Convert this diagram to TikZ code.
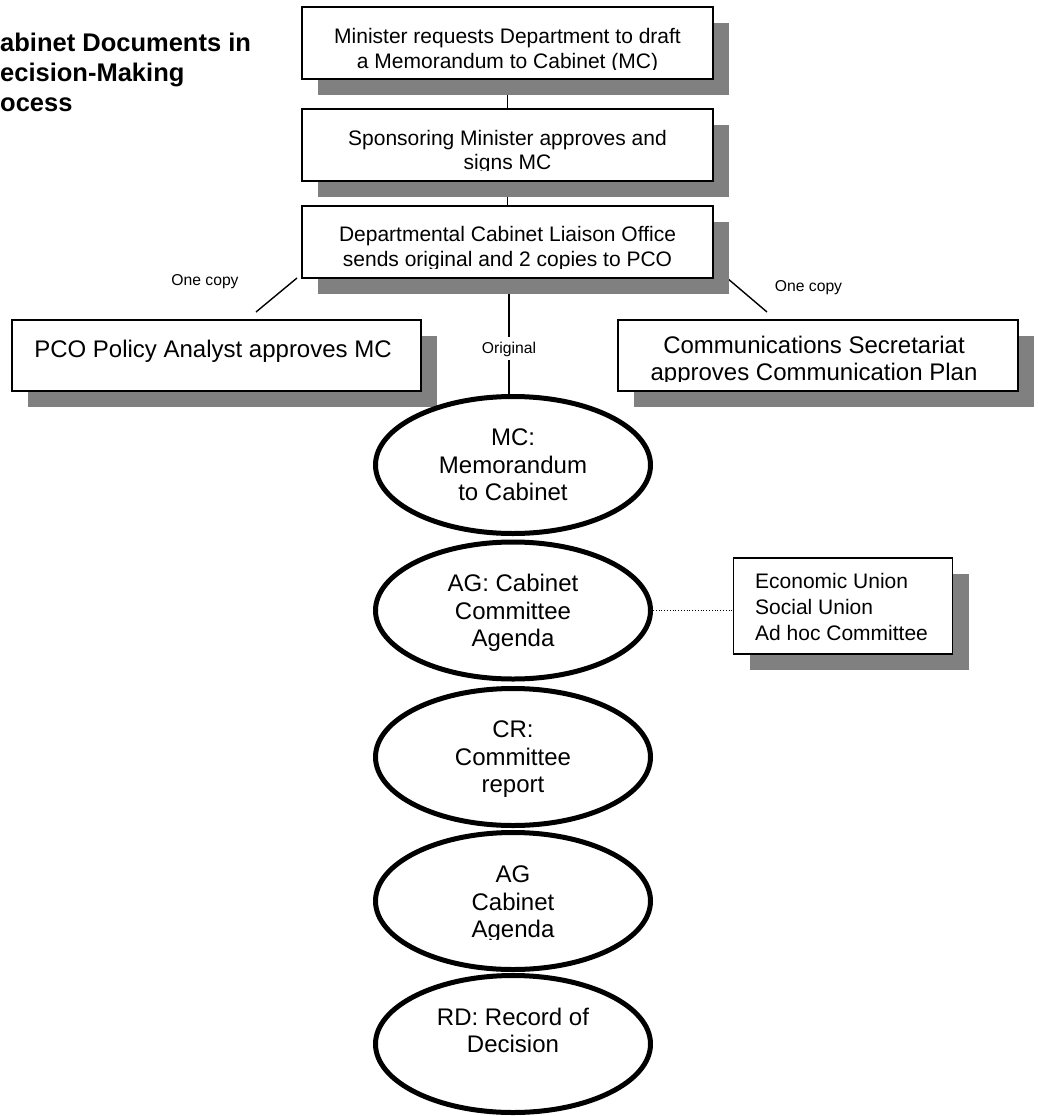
\documentclass[tikz,border=0pt]{standalone}
\usepackage{fontspec}
\setmainfont{Liberation Sans}
\usetikzlibrary{shapes.geometric,shadows}
\pgfdeclarelayer{bg}
\pgfsetlayers{bg,main}
\tikzset{
  boxnode/.style={draw=black, line width=1.6pt, fill=white, rectangle, inner sep=0pt,
    drop shadow={shadow xshift=16pt, shadow yshift=-16pt, fill=black!50, opacity=1}},
  ellnode/.style={draw=black, line width=5pt, fill=white, ellipse, inner sep=0pt,
    minimum width=275pt, minimum height=137pt, align=center,
    font=\fontsize{24}{27.5}\selectfont, text depth=0pt},
  boxtext/.style={inner sep=0pt, align=center, anchor=north, font=\fontsize{21}{25}\selectfont},
  bigtext/.style={inner sep=0pt, align=center, anchor=north, font=\fontsize{24}{27}\selectfont},
  smalllabel/.style={inner sep=0pt, anchor=base, font=\fontsize{15.7}{18}\selectfont},
  conn/.style={line width=1.4pt, draw=black},
}
\begin{document}
\begin{tikzpicture}[x=1pt,y=-1pt]
\useasboundingbox (0,0) rectangle (1037,1116);

% title
\node[anchor=north west, inner sep=0pt, align=left,
      font=\bfseries\fontsize{25.5}{30}\selectfont] (title) at (0,33)
      {abinet Documents in\\ecision-Making\\ocess};

% top boxes
\node[boxnode, minimum width=411pt, minimum height=72pt] (b1) at (507.5,43) {};
\node[boxnode, minimum width=411pt, minimum height=72pt] (b2) at (507.5,145) {};
\node[boxnode, minimum width=411pt, minimum height=72pt] (b3) at (507.5,242) {};
\begin{scope}
  \clip (303,8) rectangle (712,69.5);
  \node[boxtext] (t1) at (507.5,28) {Minister requests Department to draft\\a Memorandum to Cabinet (MC)};
\end{scope}
\begin{scope}
  \clip (303,110) rectangle (712,170.5);
  \node[boxtext, font=\fontsize{21}{23.5}\selectfont] (t2) at (507.5,130.4) {Sponsoring Minister approves and\\signs MC};
\end{scope}
\begin{scope}
  \clip (303,207) rectangle (712,268);
  \node[boxtext] (t3) at (507.5,226.4) {Departmental Cabinet Liaison Office\\sends original and 2 copies to PCO};
\end{scope}

% side boxes
\node[boxnode, minimum width=409pt, minimum height=71pt] (pco) at (216.5,355.5) {};
\node[bigtext] (pcot) at (213,339.5) {PCO Policy Analyst approves MC};
\node[boxnode, minimum width=400pt, minimum height=71pt] (com) at (818,355.5) {};
\begin{scope}
  \clip (619,321) rectangle (1017,381);
  \node[bigtext] (comt) at (814,335.5) {Communications Secretariat\\approves Communication Plan};
\end{scope}

% labels
\node[smalllabel] (lc1) at (205,285) {One copy};
\node[smalllabel] (lc2) at (808.5,291.5) {One copy};
\node[smalllabel, inner ysep=4pt, inner xsep=2pt] (orig) at (509,353) {Original};
\coordinate (l1) at (297,278);
\coordinate (l2) at (256,312);
\coordinate (r1) at (727,278);
\coordinate (r2) at (767,312);

% ellipses
\node[ellnode] (e1) at (513,465) {MC:\\Memorandum\\to Cabinet};
\node[ellnode] (e2) at (513,610.5) {AG: Cabinet\\Committee\\Agenda};
\node[ellnode] (e3) at (513,757) {CR:\\Committee\\report};
\node[ellnode] (e4) at (513,901) {};
\begin{scope}
  \clip (400,850) rectangle (630,939.5);
  \node[bigtext, font=\fontsize{24}{27.5}\selectfont] (e4t) at (513,865.8) {AG\\Cabinet\\Agenda};
\end{scope}
\node[ellnode] (e5) at (513,1044) {RD: Record of\\Decision\\\mbox{}};

% committee box
\node[boxnode, minimum width=219pt, minimum height=96pt] (eco) at (843,606) {};
\node[anchor=north west, inner sep=0pt, align=left,
      font=\fontsize{21}{26}\selectfont] (ecot) at (755,572.7)
      {Economic Union\\Social Union\\Ad hoc Committee};

% connectors (behind)
\begin{pgfonlayer}{bg}
  \fill[white] (0,0) rectangle (1037,1116);
  \draw[conn] (b1.south) -- (b2.north);
  \draw[conn] (b2.south) -- (b3.north);
  \draw[conn] (orig.north |- b3.south) -- (orig.north);
  \draw[conn] (orig.south) -- (orig.south |- e1.north);
  \draw[conn] (l1) -- (l2);
  \draw[conn] (r1) -- (r2);
  \draw[line width=0.8pt, dotted] (e2.east) -- (e2.east -| eco.west);
\end{pgfonlayer}
\end{tikzpicture}
\end{document}
